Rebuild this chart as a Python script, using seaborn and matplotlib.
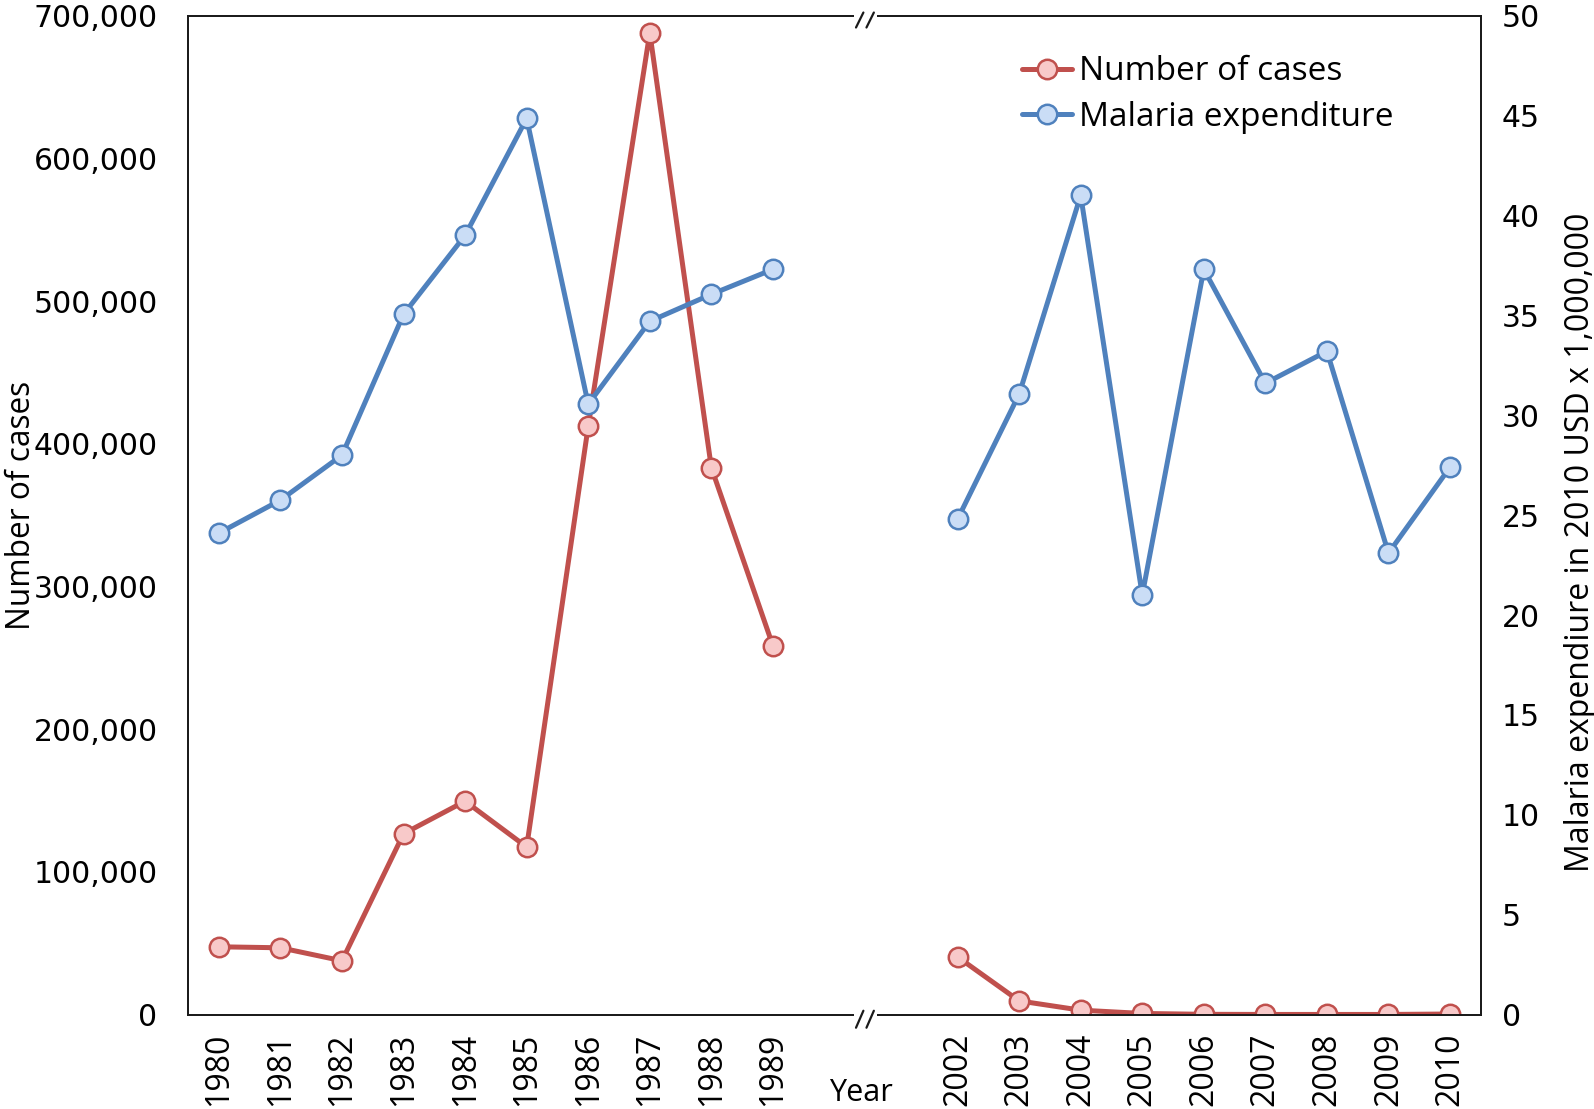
import matplotlib
matplotlib.use('Agg')
import matplotlib.pyplot as plt
from matplotlib.lines import Line2D
from matplotlib.ticker import FuncFormatter, MultipleLocator
import matplotlib.transforms as mtransforms
import numpy as np
import pandas as pd
import seaborn as sns

# data
years_early = ['1980', '1981', '1982', '1983', '1984', '1985', '1986', '1987', '1988', '1989']
years_late = ['2002', '2003', '2004', '2005', '2006', '2007', '2008', '2009', '2010']
cases_early = [47600, 46900, 37800, 126800, 149600, 117500, 412300, 687900, 383300, 258500]
cases_late = [40500, 9700, 3200, 900, 300, 200, 200, 200, 500]
spend_early = [24.1, 25.75, 28.0, 35.05, 39.0, 44.85, 30.55, 34.7, 36.05, 37.3]
spend_late = [24.8, 31.05, 41.0, 21.0, 37.3, 31.6, 33.2, 23.1, 27.4]
gap_slots = 2  # empty category slots for the axis break

red = '#C0504D'
red_face = '#F8C9C9'
blue = '#4F81BD'
blue_face = '#CADDF6'

# category slots: early years, two blanks, late years
pos_early = np.arange(len(years_early))
pos_late = np.arange(len(years_late)) + len(years_early) + gap_slots
n_slots = len(years_early) + gap_slots + len(years_late)

df = pd.DataFrame({
    'pos': np.concatenate([pos_early, pos_late]),
    'year': years_early + years_late,
    'period': ['early'] * len(years_early) + ['late'] * len(years_late),
    'cases': cases_early + cases_late,
    'spend': spend_early + spend_late,
})

sns.set_theme(style='white')
plt.rcParams['font.family'] = ['DejaVu Sans']
plt.rcParams['text.color'] = 'black'
plt.rcParams['axes.labelcolor'] = 'black'
plt.rcParams['xtick.color'] = 'black'
plt.rcParams['ytick.color'] = 'black'

fig = plt.figure(figsize=(15.94, 11.09), dpi=100)
ax = fig.add_axes([0.118, 0.085, 0.811, 0.901])
ax2 = ax.twinx()

line_kw = dict(linewidth=3.6, marker='o', markersize=14, markeredgewidth=1.8)
for period, sub in df.groupby('period'):
    sns.lineplot(data=sub, x='pos', y='cases', ax=ax, color=red,
                 markerfacecolor=red_face, markeredgecolor=red, legend=False, **line_kw)
    sns.lineplot(data=sub, x='pos', y='spend', ax=ax2, color=blue,
                 markerfacecolor=blue_face, markeredgecolor=blue, legend=False, **line_kw)

ax.set_xlim(-0.5, n_slots - 0.5)
ax2.set_xlim(ax.get_xlim())
ax.set_ylim(0, 700000)
ax2.set_ylim(0, 50)
ax.yaxis.set_major_locator(MultipleLocator(100000))
ax2.yaxis.set_major_locator(MultipleLocator(5))
ax.yaxis.set_major_formatter(FuncFormatter(lambda v, p: f'{v:,.0f}'))

ax.set_xticks(df['pos'])
ax.set_xticklabels(df['year'], rotation=90, fontfamily='Open Sans', fontsize=23)
ax.tick_params(axis='x', length=0, pad=13)
ax.tick_params(axis='y', length=0, pad=22, labelsize=21.5)
ax2.tick_params(axis='y', length=0, pad=15, labelsize=21.5)

for a in (ax, ax2):
    for s in a.spines.values():
        s.set_color('#1a1a1a')
        s.set_linewidth(1.3)
        s.set_visible(True)

ax.set_xlabel('Year', fontfamily='Open Sans', fontsize=22)
gap_mid = len(years_early) + (gap_slots - 1) / 2
ax.xaxis.set_label_coords((gap_mid + 0.5) / n_slots - 0.003, -0.063)
ax.set_ylabel('Number of cases', fontfamily='Open Sans', fontsize=22.8)
ax.yaxis.set_label_coords(-0.116, 0.51)
ax2.set_ylabel('Malaria expendiure in 2010 USD x 1,000,000', fontfamily='Open Sans', fontsize=23)
ax2.yaxis.set_label_coords(1.064, 0.473)

# axis break marks on top and bottom spines
trans = mtransforms.blended_transform_factory(ax2.transData, ax2.transAxes)
for y_spine, y0, y1 in ((1.0, 0.988, 1.003), (0.0, -0.013, 0.004)):
    ax2.plot([gap_mid - 0.19, gap_mid + 0.19], [y_spine, y_spine], transform=trans,
             color='white', linewidth=4, clip_on=False, zorder=5, solid_capstyle='butt')
    for xa, xb in ((-0.15, -0.03), (0.02, 0.14)):
        ax2.plot([gap_mid + xa, gap_mid + xb], [y0, y1], transform=trans, color='#1a1a1a',
                 linewidth=1.6, clip_on=False, zorder=6)

handles = [
    Line2D([], [], color=red, markerfacecolor=red_face, markeredgecolor=red, **line_kw),
    Line2D([], [], color=blue, markerfacecolor=blue_face, markeredgecolor=blue, **line_kw),
]
ax2.legend(handles, ['Number of cases', 'Malaria expenditure'], loc='upper left',
           bbox_to_anchor=(0.645, 0.96), frameon=False, borderpad=0, borderaxespad=0,
           handlelength=1.5, handletextpad=0.2, labelspacing=0.37,
           prop={'family': 'Open Sans', 'size': 24})

fig.savefig('out.png', dpi=100)
